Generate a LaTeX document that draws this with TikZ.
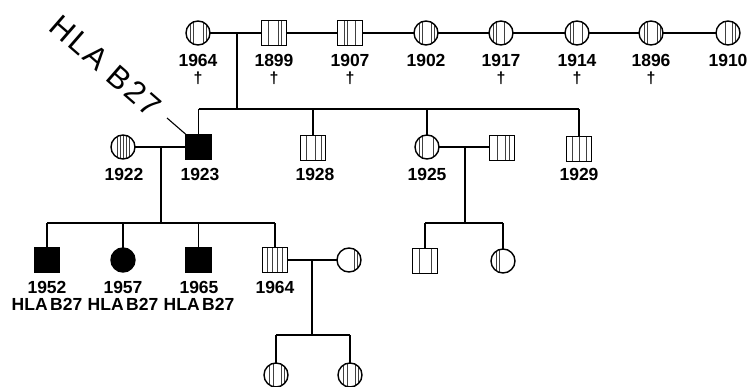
\documentclass[tikz,border=0pt]{standalone}
\usepackage{fontspec}
\setmainfont{Liberation Sans}
\begin{document}
\begin{tikzpicture}[x=1pt,y=-1pt,
  ln/.style={line width=1.4pt},
  person/.style={draw, line width=1.4pt, fill=white, inner sep=0pt, outer sep=0pt},
  male/.style={person, rectangle, minimum size=25pt},
  fem/.style={person, circle, minimum size=24pt},
  aff/.style={fill=black},
  hatch/.style={path picture={\foreach \o in {#1}{\draw[line width=0.9pt, black!75] ([xshift=\o pt]path picture bounding box.north) -- ([xshift=\o pt]path picture bounding box.south);}}},
  lab/.style={font=\fontsize{17.5}{17.5}\selectfont\bfseries, inner sep=0pt},
  dag/.style={font=\fontsize{16}{16}\selectfont\bfseries, inner sep=0pt}]
\useasboundingbox (0,0) rectangle (751,387);
% top row
\node[fem, hatch={-8,-5,5,8}] (c1964) at (198,33) {};
\node[male, hatch={-6,4,7}] (s1899) at (274,33) {};
\node[male, hatch={-6,-3,5}] (s1907) at (350,33) {};
\node[fem, hatch={-7,-4,5,8}] (c1902) at (426,33) {};
\node[fem, hatch={-8,-5,3}] (c1917) at (501,33) {};
\node[fem, hatch={-7,-4,5}] (c1914) at (577,33) {};
\node[fem, hatch={-7,-4,6,9}] (c1896) at (651,33) {};
\node[fem, hatch={-3,4,7}] (c1910) at (728,33) {};
\foreach \n/\x in {1964/198,1899/274,1907/350,1902/426,1917/501,1914/577,1896/651,1910/728}
  \node[lab] (l\n) at (\x,60) {\n};
\foreach \n/\x in {1964/198,1899/274,1907/350,1917/501,1914/577,1896/651}
  \node[dag] (dg\n) at (\x,78) {†};
\draw[ln] (c1964.east) -- (s1899.west);
\draw[ln] (s1899.east) -- (s1907.west);
\draw[ln] (s1907.east) -- (c1902.west);
\draw[ln] (c1902.east) -- (c1917.west);
\draw[ln] (c1917.east) -- (c1914.west);
\draw[ln] (c1914.east) -- (c1896.west);
\draw[ln] (c1896.east) -- (c1910.west);
% second generation
\node[fem, hatch={-6,-3,0,3,6}] (c1922) at (123,147) {};
\node[male, aff] (s1923) at (198.5,147) {};
\node[male, hatch={-7,2,8}] (s1928) at (313,148) {};
\node[fem, hatch={-8,-5,6}] (c1925) at (427,147) {};
\node[male, hatch={-5,3,7}] (s1925sp) at (502,148) {};
\node[male, hatch={-7,0,7}] (s1929) at (579,149) {};
\foreach \n/\x in {1922/124,1923/200,1928/315,1925/427,1929/579}
  \node[lab] (m\n) at (\x,174) {\n};
\coordinate (d1a) at (237,33);
\coordinate (d1b) at (237,109);
\coordinate (s1L) at (198.5,109);
\coordinate (s1R) at (579,109);
\coordinate (s1c) at (313,109);
\coordinate (s1d) at (427,109);
\draw[ln] (d1a) -- (d1b);
\draw[ln] (s1L) -- (s1R);
\draw[ln] (s1L) -- (s1923.north);
\draw[ln] (s1c) -- (s1928.north);
\draw[ln] (s1d) -- (c1925.north);
\draw[ln] (s1R) -- (s1929.north);
\draw[ln] (c1922.east) -- (s1923.west);
\draw[ln] (c1925.east) -- (c1925.east -| s1925sp.west);
% rotated label
\node[font=\fontsize{31}{31}\selectfont, rotate=-41, inner sep=0pt] (hla) at (106,66) {\addfontfeatures{LetterSpace=7}HLA B27};
\coordinate (hlaend) at (167,118);
\draw[line width=1.1pt] (hlaend) -- (s1923.north west);
% third generation, left family
\coordinate (d2a) at (161,147);
\coordinate (d2b) at (161,223);
\coordinate (s2L) at (47,223);
\coordinate (s2R) at (275,223);
\coordinate (s2b) at (123,223);
\coordinate (s2c) at (198.5,223);
\node[male, aff] (s1952) at (47,260) {};
\node[fem, aff] (c1957) at (123,260) {};
\node[male, aff] (s1965) at (198.5,260) {};
\node[male, hatch={-8,-3,2,7}] (s1964) at (275,260) {};
\node[fem, hatch={5,8}] (c1964sp) at (349,260) {};
\draw[ln] (d2a) -- (d2b);
\draw[ln] (s2L) -- (s2R);
\draw[ln] (s2L) -- (s1952.north);
\draw[ln] (s2b) -- (c1957.north);
\draw[ln] (s2c) -- (s1965.north);
\draw[ln] (s2R) -- (s1964.north);
\draw[ln] (s1964.east) -- (c1964sp.west);
\foreach \n/\x in {1952/47,1957/123,1965/199,1964/275}
  \node[lab] (n\n) at (\x,287) {\n};
\foreach \n/\x in {a/47,b/123,c/199}
  \node[lab] (h\n) at (\x,304) {HLA\hspace{2.5pt}B27};
% third generation, right family
\coordinate (d3a) at (465,147);
\coordinate (d3b) at (465,223);
\coordinate (s3L) at (425,223);
\coordinate (s3R) at (503,223);
\node[male, hatch={-6,6}] (s3a) at (425,261) {};
\node[fem, hatch={-7,-4}] (c3b) at (503,261) {};
\draw[ln] (d3a) -- (d3b);
\draw[ln] (s3L) -- (s3R);
\draw[ln] (s3L) -- (s3a.north);
\draw[ln] (s3R) -- (c3b.north);
% fourth generation
\coordinate (d4a) at (312,260);
\coordinate (d4b) at (312,335);
\coordinate (s4L) at (276,335);
\coordinate (s4R) at (350,335);
\node[fem, hatch={-7,-3,5,8}] (c4a) at (276,375) {};
\node[fem, hatch={-7,-3,5,8}] (c4b) at (350,375) {};
\draw[ln] (d4a) -- (d4b);
\draw[ln] (s4L) -- (s4R);
\draw[ln] (s4L) -- (c4a.north);
\draw[ln] (s4R) -- (c4b.north);
\end{tikzpicture}
\end{document}
